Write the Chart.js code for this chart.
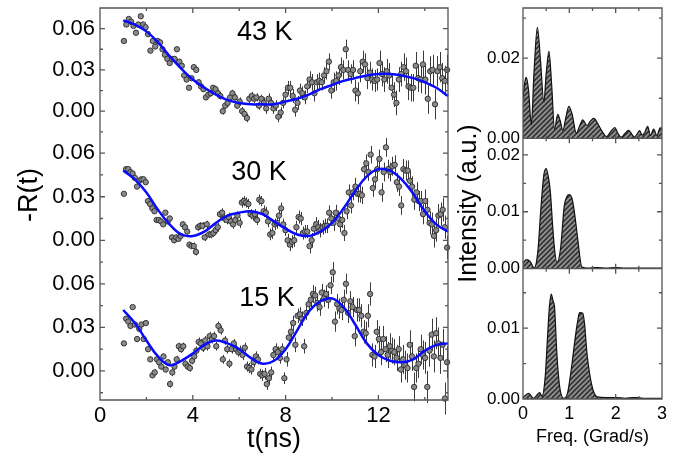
<!DOCTYPE html>
<html>
<head>
<meta charset="utf-8">
<script src="https://cdn.jsdelivr.net/npm/chart.js@4.4.1/dist/chart.umd.min.js"></script>
<style>
  body { margin: 0; background: #fff; }
  #wrap { position: relative; width: 678px; height: 457px; }
  canvas { position: absolute; top: 0; }
</style>
</head>
<body>
<div id="wrap">
  <canvas id="left" width="460" height="457" style="left:0;width:460px;height:457px"></canvas>
  <canvas id="right" width="238" height="457" style="left:440px;width:238px;height:457px"></canvas>
</div>
<script>
// -R(t) data, one point roughly every 0.1 ns from 1 to 15 ns
const r43 = [
  0.051, 0.063, 0.067, 0.065, 0.062, 0.057, 0.063, 0.069, 0.063, 0.061,
  0.056, 0.044, 0.051, 0.047, 0.051, 0.050, 0.045, 0.041, 0.038, 0.035,
  0.038, 0.038, 0.045, 0.036, 0.033, 0.026, 0.023, 0.017, 0.024, 0.032,
  0.030, 0.021, 0.018, 0.016, 0.010, 0.012, 0.013, 0.017, 0.016, 0.013,
  0.011, 0.000, 0.004, 0.006, 0.010, 0.013, 0.010, 0.004, 0.007, 0.000,
  -0.002, -0.005, 0.009, 0.011, 0.009, 0.010, 0.004, 0.009, 0.006, 0.002,
  0.009, 0.006, 0.002, 0.004, -0.004, -0.001, 0.006, 0.012, 0.017, 0.017,
  0.011, 0.001, 0.006, 0.015, 0.013, 0.010, 0.018, 0.023, 0.021, 0.013,
  0.021, 0.022, 0.021, 0.026, 0.029, 0.036, 0.015, 0.021, 0.022, 0.026,
  0.032, 0.030, 0.045, 0.030, 0.027, 0.030, 0.015, 0.013, 0.029, 0.036,
  0.034, 0.024, 0.028, 0.023, 0.022, 0.023, 0.035, 0.027, 0.023, 0.029,
  0.026, 0.017, 0.012, 0.006, 0.023, 0.027, 0.032, 0.029, 0.018, 0.017,
  0.017, 0.033, 0.024, 0.023, 0.034, 0.023, 0.009, 0.029, 0.030, 0.005,
  0.029, 0.032, 0.024, 0.022, 0.030
];
const r30 = [
  0.032, 0.049, 0.049, 0.047, 0.046, 0.043, 0.037, 0.041, 0.042, 0.042,
  0.040, 0.027, 0.025, 0.022, 0.020, 0.014, 0.014, 0.013, 0.011, 0.019,
  0.013, 0.015, 0.002, 0.000, 0.002, 0.001, 0.003, 0.011, 0.009, 0.006,
  -0.003, -0.004, -0.004, -0.008, 0.009, 0.010, 0.010, 0.002, 0.011, 0.004,
  0.004, 0.005, 0.007, 0.009, 0.018, 0.019, 0.015, 0.014, 0.016, 0.013,
  0.011, 0.014, 0.017, 0.012, 0.026, 0.027, 0.026, 0.025, 0.018, 0.017,
  0.018, 0.014, 0.028, 0.027, 0.020, 0.019, 0.013, 0.004, 0.005, 0.011,
  0.012, 0.017, 0.022, 0.011, 0.007, 0.000, -0.003, -0.001, 0.000, 0.009,
  0.016, 0.015, 0.005, 0.006, 0.006, -0.004, 0.000, 0.008, 0.011, 0.009,
  0.007, 0.009, 0.010, 0.010, 0.019, 0.015, 0.012, 0.019, 0.015, 0.011,
  0.014, 0.005, 0.020, 0.033, 0.024, 0.033, 0.037, 0.032, 0.032, 0.031,
  0.049, 0.053, 0.047, 0.059, 0.036, 0.042, 0.049, 0.056, 0.033, 0.047,
  0.064, 0.049, 0.047, 0.051, 0.052, 0.040, 0.037, 0.024, 0.049, 0.048,
  0.048, 0.041, 0.037, 0.028, 0.033, 0.027, 0.027, 0.018, 0.027, 0.021,
  0.012, 0.011, 0.003, 0.007, 0.017, 0.018, 0.021, 0.009, -0.005
];
const r15 = [
  0.019, 0.036, 0.034, 0.031, 0.044, 0.032, 0.022, 0.029, 0.032, 0.022,
  0.033, 0.015, 0.008, -0.003, -0.001, 0.008, 0.006, 0.003, 0.010, 0.001,
  0.006, -0.009, -0.001, 0.003, 0.008, 0.017, 0.015, 0.017, 0.005, 0.003,
  0.002, 0.007, 0.010, 0.014, 0.020, 0.019, 0.016, 0.021, 0.017, 0.024,
  0.022, 0.024, 0.017, 0.031, 0.028, 0.008, 0.021, 0.015, 0.005, 0.015,
  0.019, 0.015, 0.013, 0.014, 0.011, 0.016, 0.003, 0.002, 0.001, 0.006,
  0.010, 0.008, -0.002, -0.003, -0.002, -0.009, -0.005, -0.001, 0.011, 0.015,
  0.013, 0.009, 0.015, -0.005, 0.008, 0.023, 0.027, 0.033, 0.018, 0.038,
  0.039, 0.036, 0.017, 0.040, 0.046, 0.049, 0.053, 0.052, 0.047, 0.044,
  0.054, 0.050, 0.053, 0.049, 0.059, 0.068, 0.034, 0.046, 0.043, 0.042,
  0.049, 0.060, 0.040, 0.048, 0.044, 0.024, 0.042, 0.042, 0.038, 0.027,
  0.026, 0.038, 0.053, 0.011, 0.010, 0.027, 0.022, 0.013, 0.022, 0.015,
  0.011, 0.017, 0.014, 0.013, 0.009, 0.015, 0.001, 0.008, 0.004, 0.002,
  0.018, 0.010, -0.011, 0.002, 0.005, 0.015, 0.011, 0.009, -0.011, 0.014,
  0.025, 0.010, 0.026, 0.019, 0.009, 0.018, -0.019, 0.006
];
const T_FIRST = 1.03, T_LAST = 14.96;

// error bar half-size, one value per ns (1-2, 2-3, ... 14-15, 15)
const err43 = [0.001, 0.0012, 0.0015, 0.002, 0.0025, 0.003, 0.004, 0.005, 0.006, 0.007, 0.008, 0.009, 0.010, 0.011, 0.011];
const err30 = [0.0012, 0.0015, 0.002, 0.0025, 0.003, 0.0035, 0.004, 0.0045, 0.005, 0.0055, 0.006, 0.0065, 0.007, 0.008, 0.009];
const err15 = [0.0015, 0.002, 0.0025, 0.003, 0.003, 0.0035, 0.004, 0.005, 0.006, 0.007, 0.008, 0.009, 0.010, 0.011, 0.012];

// fitted curves
const fitTimes = [1, 1.5, 2, 2.5, 3, 3.5, 4, 4.5, 5, 5.5, 6, 6.5, 7, 7.5, 8, 8.5, 9, 9.5, 10, 10.5, 11, 11.5, 12, 12.5, 13, 13.5, 14, 14.5, 15];
const fit43 = [0.066, 0.063, 0.058, 0.050, 0.040, 0.031, 0.023, 0.017, 0.012, 0.008, 0.006, 0.005, 0.005, 0.005, 0.007, 0.009, 0.012, 0.016, 0.019, 0.022, 0.024, 0.026, 0.027, 0.027, 0.026, 0.024, 0.021, 0.017, 0.011];
const fit30 = [0.048, 0.042, 0.033, 0.021, 0.011, 0.004, 0.003, 0.006, 0.012, 0.017, 0.019, 0.020, 0.018, 0.013, 0.008, 0.004, 0.003, 0.006, 0.012, 0.022, 0.034, 0.044, 0.049, 0.048, 0.042, 0.032, 0.020, 0.011, 0.006];
const fit15 = [0.042, 0.033, 0.021, 0.010, 0.004, 0.007, 0.012, 0.018, 0.021, 0.019, 0.015, 0.009, 0.005, 0.007, 0.015, 0.028, 0.041, 0.048, 0.050, 0.044, 0.032, 0.019, 0.011, 0.007, 0.006, 0.008, 0.014, 0.018, 0.019];

// FFT spectra
const freq43 = [0, 0.04, 0.07, 0.12, 0.18, 0.24, 0.31, 0.38, 0.45, 0.50, 0.56, 0.62, 0.68, 0.75, 0.80, 0.86, 0.93, 0.99, 1.06, 1.15, 1.22, 1.29, 1.38, 1.45, 1.53, 1.62, 1.72, 1.80, 1.90, 1.98, 2.05, 2.12, 2.20, 2.28, 2.35, 2.41, 2.47, 2.52, 2.57, 2.63, 2.69, 2.75, 2.82, 2.89, 2.96, 3.0];
const amp43 = [0.010, 0.014, 0.0152, 0.012, 0.0034, 0.017, 0.0277, 0.019, 0.009, 0.016, 0.0217, 0.013, 0.0023, 0.006, 0.0045, 0.002, 0.0055, 0.008, 0.006, 0.0013, 0.003, 0.0046, 0.0032, 0.0042, 0.005, 0.0035, 0.0015, 0.0004, 0.0018, 0.0027, 0.0012, 0.0003, 0.0012, 0.002, 0.001, 0.0003, 0.0012, 0.0019, 0.0008, 0.0015, 0.003, 0.0007, 0.0023, 0.0007, 0.0026, 0.0025];
const freq30 = [0, 0.07, 0.16, 0.24, 0.32, 0.39, 0.45, 0.50, 0.55, 0.59, 0.64, 0.68, 0.73, 0.81, 0.89, 0.95, 1.0, 1.05, 1.09, 1.14, 1.18, 1.27, 1.4, 1.6, 1.8, 2.0, 2.2, 2.4, 2.6, 2.8, 3.0];
const amp30 = [0.0009, 0.0016, 0.0012, 0.0001, 0.003, 0.011, 0.0165, 0.0176, 0.016, 0.0135, 0.0075, 0.0035, 0.0011, 0.0035, 0.011, 0.0127, 0.013, 0.0125, 0.011, 0.008, 0.0053, 0.0003, 0.0001, 0.0002, 0.0001, 0.0002, 0.0001, 0.0001, 0.0001, 0.0001, 0.0001];
const freq15 = [0, 0.12, 0.23, 0.36, 0.41, 0.48, 0.53, 0.57, 0.61, 0.65, 0.68, 0.73, 0.79, 0.88, 0.96, 1.04, 1.13, 1.18, 1.22, 1.29, 1.33, 1.38, 1.49, 1.6, 1.8, 2.0, 2.2, 2.4, 2.6, 2.8, 3.0];
const amp15 = [0.0002, 0.0008, 0.0001, 0.0009, 0.0004, 0.0032, 0.0088, 0.013, 0.0148, 0.0138, 0.013, 0.0065, 0.0018, 0.0001, 0.0008, 0.0041, 0.0088, 0.011, 0.0122, 0.0121, 0.0105, 0.0065, 0.0018, 0.0003, 0.0002, 0.0002, 0.0001, 0.0002, 0.0001, 0.0001, 0.0001];

// ticks
const tTicks = [0, 2, 4, 6, 8, 10, 12, 14];
const rTicks = [-0.015, 0, 0.015, 0.03, 0.045, 0.06];
const fTicks = [0, 0.5, 1, 1.5, 2, 2.5, 3];
const iTicks43 = [0, 0.01, 0.02, 0.03];
const iTicks30 = [0, 0.005, 0.01, 0.015, 0.02];
const iTicks15 = [0, 0.005, 0.01, 0.015];

const panelNames = ['43 K', '30 K', '15 K'];
const nameAt = [[7.1, 0.057], [6.85, 0.047], [7.2, 0.050]];

const FONT = "'Liberation Sans', Arial, Helvetica, sans-serif";
const AXIS = '#555';

function toPoints(vals) {
  const step = (T_LAST - T_FIRST) / (vals.length - 1);
  return vals.map((v, i) => ({x: T_FIRST + i * step, y: v}));
}
function pairs(xs, ys) {
  return xs.map((x, i) => ({x: x, y: ys[i]}));
}
function isMultiple(v, m) {
  return Math.abs(v / m - Math.round(v / m)) < 1e-6;
}

function hatch() {
  const c = document.createElement('canvas');
  c.width = 5; c.height = 5;
  const g = c.getContext('2d');
  g.fillStyle = '#8c8c8c';
  g.fillRect(0, 0, 5, 5);
  g.strokeStyle = '#2a2a2a';
  g.lineWidth = 1.5;
  g.beginPath();
  g.moveTo(-1, 6); g.lineTo(6, -1);
  g.moveTo(-3.5, 3.5); g.lineTo(3.5, -3.5);
  g.moveTo(1.5, 8.5); g.lineTo(8.5, 1.5);
  g.stroke();
  return g.createPattern(c, 'repeat');
}

// inward tick marks + frame
function frameTicks(perPanel) {
  return {
    id: 'frameTicks',
    afterDraw(chart) {
      const ctx = chart.ctx, a = chart.chartArea, xs = chart.scales.x;
      const ys = Object.values(chart.scales).filter(s => s.axis === 'y');
      const rows = perPanel ? ys.map(s => [s.top, s.bottom]) : [[a.top, a.bottom]];
      ctx.save();
      ctx.strokeStyle = AXIS;
      ctx.lineWidth = 1.3;
      ctx.beginPath();
      rows.forEach(([top, bottom]) => {
        ctx.rect(a.left, top, a.right - a.left, bottom - top);
        xs.ticks.forEach(t => {
          const px = xs.getPixelForValue(t.value);
          const len = t.label !== '' ? 5 : 3;
          ctx.moveTo(px, bottom); ctx.lineTo(px, bottom - len);
          ctx.moveTo(px, top); ctx.lineTo(px, top + len);
        });
      });
      ys.forEach(s => {
        s.ticks.forEach(t => {
          const py = s.getPixelForValue(t.value);
          const len = t.label !== '' ? 5 : 3;
          ctx.moveTo(a.left, py); ctx.lineTo(a.left + len, py);
          ctx.moveTo(a.right, py); ctx.lineTo(a.right - len, py);
        });
      });
      ctx.stroke();
      ctx.restore();
    }
  };
}

const errorBars = {
  id: 'errorBars',
  beforeDatasetsDraw(chart) {
    const ctx = chart.ctx;
    ctx.save();
    ctx.strokeStyle = 'rgba(25,25,25,0.85)';
    ctx.lineWidth = 1;
    ctx.beginPath();
    chart.data.datasets.forEach(ds => {
      if (!ds.errBars) return;
      const ys = chart.scales[ds.yAxisID], xs = chart.scales.x;
      ds.data.forEach(p => {
        const e = ds.errBars[Math.min(Math.floor(p.x) - 1, ds.errBars.length - 1)];
        const px = Math.round(xs.getPixelForValue(p.x)) + 0.5;
        ctx.moveTo(px, ys.getPixelForValue(p.y + e));
        ctx.lineTo(px, ys.getPixelForValue(p.y - e));
      });
    });
    ctx.stroke();
    ctx.restore();
  }
};

// panel names and the shared -R(t) axis title
const panelLabels = {
  id: 'panelLabels',
  afterDraw(chart) {
    const ctx = chart.ctx, xs = chart.scales.x, a = chart.chartArea;
    const ids = ['y43', 'y30', 'y15'];
    ctx.save();
    ctx.fillStyle = '#000';
    ctx.font = '27px ' + FONT;
    ctx.textAlign = 'center';
    ctx.textBaseline = 'middle';
    panelNames.forEach((name, i) => {
      const ys = chart.scales[ids[i]];
      ctx.fillText(name, xs.getPixelForValue(nameAt[i][0]), ys.getPixelForValue(nameAt[i][1]));
    });
    ctx.translate(30, (a.top + a.bottom) / 2 - 9);
    ctx.rotate(-Math.PI / 2);
    ctx.fillText('-R(t)', 0, 0);
    ctx.restore();
  }
};

function rAxis(min, max) {
  return {
    type: 'linear', position: 'left', stack: 'left', min: min, max: max,
    afterBuildTicks: s => { s.ticks = rTicks.map(v => ({value: v})); },
    afterFit: s => { s.width = 100; s.paddingTop = 0; s.paddingBottom = 0; },
    grid: {display: false, drawTicks: false}, border: {display: false},
    ticks: {
      autoSkip: false, padding: 5, color: '#000', font: {family: FONT, size: 22},
      callback: v => isMultiple(v, 0.03) ? v.toFixed(2) : ''
    }
  };
}

function scatterSet(vals, errs, axis) {
  return {
    type: 'scatter', data: toPoints(vals), yAxisID: axis, errBars: errs,
    pointRadius: 2.7, pointBackgroundColor: '#8a8a8a', pointBorderColor: '#2a2a2a', pointBorderWidth: 0.9,
    clip: false, order: 1
  };
}
function fitSet(vals, axis) {
  return {
    type: 'line', data: pairs(fitTimes, vals), yAxisID: axis,
    borderColor: '#0a0aff', borderWidth: 2.5, pointRadius: 0, tension: 0.4,
    clip: false, order: 0
  };
}

// stacked axes are placed bottom-up in definition order
new Chart(document.getElementById('left'), {
  type: 'scatter',
  data: {
    datasets: [
      scatterSet(r43, err43, 'y43'), fitSet(fit43, 'y43'),
      scatterSet(r30, err30, 'y30'), fitSet(fit30, 'y30'),
      scatterSet(r15, err15, 'y15'), fitSet(fit15, 'y15')
    ]
  },
  options: {
    responsive: false,
    animation: false,
    devicePixelRatio: 1,
    layout: {padding: {top: 8, right: 12, left: 0, bottom: 0}},
    plugins: {legend: {display: false}, tooltip: {enabled: false}},
    scales: {
      x: {
        type: 'linear', position: 'bottom', min: 0, max: 15,
        afterBuildTicks: s => { s.ticks = tTicks.map(v => ({value: v})); },
        afterFit: s => { s.height = 57; s.paddingLeft = 0; s.paddingRight = 0; },
        grid: {display: false, drawTicks: false}, border: {display: false},
        ticks: {
          autoSkip: false, maxRotation: 0, padding: 3, color: '#000', font: {family: FONT, size: 22},
          callback: v => v % 4 === 0 ? String(v) : ''
        },
        title: {display: true, text: 't(ns)', color: '#000', font: {family: FONT, size: 27}, padding: {top: 0, bottom: 1}}
      },
      y15: rAxis(-0.02, 0.07),
      y30: rAxis(-0.02, 0.07),
      y43: rAxis(-0.02, 0.075)
    }
  },
  plugins: [errorBars, frameTicks(false), panelLabels]
});

const pattern = hatch();

function iAxis(max, ticks, labelStep, title) {
  return {
    type: 'linear', position: 'left', stack: 'right', min: 0, max: max,
    afterBuildTicks: s => { s.ticks = ticks.map(v => ({value: v})); },
    afterFit: s => { s.width = 83; s.paddingTop = 0; s.paddingBottom = 0; },
    grid: {display: false, drawTicks: false}, border: {display: false},
    ticks: {
      autoSkip: false, padding: 3, color: '#000', font: {family: FONT, size: 17},
      callback: v => isMultiple(v, labelStep) ? v.toFixed(2) : ''
    },
    title: {display: !!title, text: title || '', color: '#000', font: {family: FONT, size: 25}, padding: {top: 14, bottom: 0}}
  };
}
function specSet(fs, amps, axis) {
  return {
    type: 'line', data: pairs(fs, amps), yAxisID: axis,
    borderColor: '#111', borderWidth: 1.2, backgroundColor: pattern, fill: 'origin',
    pointRadius: 0, cubicInterpolationMode: 'monotone'
  };
}

new Chart(document.getElementById('right'), {
  type: 'line',
  data: {
    datasets: [
      specSet(freq43, amp43, 'ya'),
      specSet(freq30, amp30, 'yb'),
      specSet(freq15, amp15, 'yc')
    ]
  },
  options: {
    responsive: false,
    animation: false,
    devicePixelRatio: 1,
    layout: {padding: {top: 8, right: 16, left: 0, bottom: 0}},
    plugins: {legend: {display: false}, tooltip: {enabled: false}},
    scales: {
      x: {
        type: 'linear', position: 'bottom', min: 0, max: 3,
        afterBuildTicks: s => { s.ticks = fTicks.map(v => ({value: v})); },
        afterFit: s => { s.height = 58; s.paddingLeft = 0; s.paddingRight = 0; },
        grid: {display: false, drawTicks: false}, border: {display: false},
        ticks: {
          autoSkip: false, maxRotation: 0, padding: 4, color: '#000', font: {family: FONT, size: 18},
          callback: v => Number.isInteger(v) ? String(v) : ''
        },
        title: {display: true, text: 'Freq. (Grad/s)', color: '#000', font: {family: FONT, size: 18}, padding: {top: 0, bottom: 9}}
      },
      yc: iAxis(0.0184, iTicks15, 0.01),
      yb: iAxis(0.0229, iTicks30, 0.01, 'Intensity (a.u.)'),
      ya: iAxis(0.0325, iTicks43, 0.02)
    }
  },
  plugins: [frameTicks(true)]
});
</script>
</body>
</html>
